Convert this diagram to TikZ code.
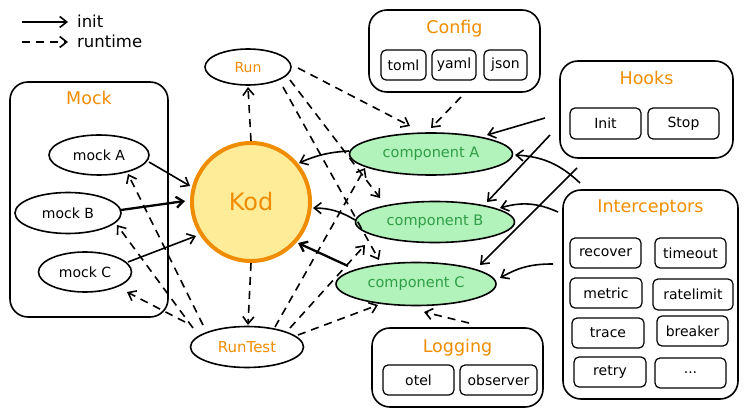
\documentclass[tikz,border=0pt]{standalone}
\usepackage{fontspec}
\setmainfont{DejaVu Sans}
\usetikzlibrary{shapes.geometric,arrows.meta,calc}
\definecolor{korange}{HTML}{F08C00}
\definecolor{kyellow}{HTML}{FFEC99}
\definecolor{kgreen}{HTML}{B2F2BB}
\definecolor{kgreentext}{HTML}{2F9E44}
\tikzset{
  bigbox/.style={draw, line width=1.6pt, rounded corners=18pt, inner sep=0pt},
  itembox/.style={draw, line width=1.2pt, rounded corners=5pt, inner sep=0pt, font=\fontsize{14}{16}\selectfont},
  boxtitle/.style={text=korange, inner sep=0pt, font=\fontsize{17.5}{19}\selectfont},
  oval/.style={ellipse, draw, line width=1.6pt, inner sep=0pt, font=\fontsize{14}{16}\selectfont},
  comp/.style={oval, fill=kgreen, text=kgreentext, font=\fontsize{14.5}{16}\selectfont},
  initarrow/.style={-{Straight Barb[length=7pt,width=11pt]}, line width=1.6pt},
  runarrow/.style={initarrow, dash pattern=on 8pt off 6pt},
  legendtext/.style={anchor=west, inner sep=0pt, font=\fontsize{16.5}{18}\selectfont}
}
\begin{document}
\begin{tikzpicture}[x=1pt,y=-1pt]
\useasboundingbox (0,0) rectangle (748,417);

% legend
\coordinate (l1s) at (22,22); \coordinate (l1e) at (68,22);
\coordinate (l2s) at (22,42); \coordinate (l2e) at (68,42);
\draw[initarrow] (l1s) -- (l1e);
\draw[runarrow] (l2s) -- (l2e);
\node[legendtext] (linit) at (77,21) {init};
\node[legendtext] (lrun) at (77,41) {runtime};

% group boxes
\node[bigbox, minimum width=158pt, minimum height=235pt] (mock) at (89,199.5) {};
\node[boxtitle] (mockT) at (89,98) {Mock};
\node[bigbox, minimum width=171pt, minimum height=82pt] (config) at (454.5,51) {};
\node[boxtitle] (configT) at (454.5,29) {Config};
\node[bigbox, minimum width=173pt, minimum height=97pt] (hooks) at (646.5,109.5) {};
\node[boxtitle] (hooksT) at (646.5,78) {Hooks};
\node[bigbox, minimum width=175pt, minimum height=209pt] (icp) at (650.5,294.5) {};
\node[boxtitle] (icpT) at (650.5,208) {Interceptors};
\node[bigbox, minimum width=171pt, minimum height=79pt] (logging) at (457.5,367.5) {};
\node[boxtitle] (loggingT) at (457.5,348) {Logging};

% items
\node[itembox, minimum width=45pt, minimum height=30pt] (toml) at (403.5,65) {toml};
\node[itembox, minimum width=44pt, minimum height=30pt] (yaml) at (454,65) {yaml};
\node[itembox, minimum width=43pt, minimum height=30pt] (json) at (505.5,65) {json};
\node[itembox, minimum width=71pt, minimum height=31pt] (init) at (605.5,123.5) {Init};
\node[itembox, minimum width=71pt, minimum height=31pt] (stop) at (683.5,123.5) {Stop};
\node[itembox, minimum width=71pt, minimum height=30pt] (recover) at (605.5,253) {recover};
\node[itembox, minimum width=71pt, minimum height=30pt] (timeout) at (690.5,253) {timeout};
\node[itembox, minimum width=72pt, minimum height=30pt] (metric) at (606,293) {metric};
\node[itembox, minimum width=80pt, minimum height=31pt] (ratelimit) at (693,294.5) {ratelimit};
\node[itembox, minimum width=72pt, minimum height=30pt] (trace) at (608,333) {trace};
\node[itembox, minimum width=71pt, minimum height=30pt] (breaker) at (692.5,331) {breaker};
\node[itembox, minimum width=72pt, minimum height=30pt] (retry) at (610,372) {retry};
\node[itembox, minimum width=71pt, minimum height=30pt] (dots) at (690.5,373) {...};
\node[itembox, minimum width=71pt, minimum height=30pt] (otel) at (418.5,380) {otel};
\node[itembox, minimum width=77pt, minimum height=30pt] (observer) at (498.5,380) {observer};

% ovals
\node[oval, minimum width=86pt, minimum height=36pt, text=korange] (run) at (248,67) {Run};
\node[oval, minimum width=113pt, minimum height=41pt, text=korange, font=\fontsize{15}{17}\selectfont] (runtest) at (247,347) {RunTest};
\node[oval, minimum width=100pt, minimum height=40pt] (mockA) at (99,155) {mock A};
\node[oval, minimum width=106pt, minimum height=41pt] (mockB) at (68,213) {mock B};
\node[oval, minimum width=93pt, minimum height=40pt] (mockC) at (85,272) {mock C};
\node[comp, minimum width=163pt, minimum height=42pt] (compA) at (431,154) {component A};
\node[comp, minimum width=159pt, minimum height=41pt] (compB) at (435,222) {component B};
\node[comp, minimum width=160pt, minimum height=43pt] (compC) at (416,284) {component C};
\node[circle, draw=korange, fill=kyellow, line width=4pt, minimum size=118pt, inner sep=0pt,
      text=korange, font=\fontsize{24}{26}\selectfont] (kod) at (251,202) {Kod};

% init connectors
\draw[initarrow] ($(mockA)+(50,7)$) -- ($(kod)+(-61,-16)$);
\draw[initarrow, line width=2.3pt] ($(mockB)+(53,-3)$) -- ($(kod)+(-66,-1)$);
\draw[initarrow] ($(mockC)+(43,-10)$) -- ($(kod)+(-55,34)$);
\draw[initarrow] ($(compA)+(-82,-3)$) to[bend right=10] ($(kod)+(48,-39)$);
\draw[initarrow] ($(compB)+(-80,-2)$) to[bend right=15] ($(kod)+(62,6)$);
\draw[initarrow, line width=2.3pt] ($(compC)+(-68,-18)$) -- ($(kod)+(47,41)$);
\draw[initarrow] ($(hooks)+(-101.5,8.5)$) -- ($(compA)+(56,-19)$);
\draw[initarrow] ($(hooks)+(-96.5,25.5)$) -- ($(compB)+(52,-20)$);
\draw[initarrow] ($(hooks)+(-69.5,58.5)$) -- ($(compC)+(64,-19)$);
\draw[initarrow] ($(icp)+(-70.5,-111.5)$) to[bend right=20] ($(compA)+(84,1)$);
\draw[initarrow] ($(icp)+(-92.5,-82.5)$) to[bend right=20] ($(compB)+(65,-14)$);
\draw[initarrow] ($(icp)+(-97.5,-30.5)$) to[bend right=15] ($(compC)+(84,-6)$);

% runtime connectors
\draw[runarrow] (kod.north) -- ($(run)+(0,20)$);
\draw[runarrow] ($(run)+(50,1)$) -- ($(compA)+(-21,-28)$);
\draw[runarrow] ($(config)+(6.5,46)$) -- ($(compA)+(0,-26)$);
\draw[runarrow] ($(run)+(42,13)$) -- ($(compB)+(-55,-24)$);
\draw[runarrow] ($(run)+(35,20)$) -- ($(compC)+(-37,-24)$);
\draw[runarrow] ($(runtest)+(28,-20)$) -- ($(compA)+(-66,14)$);
\draw[runarrow] ($(runtest)+(43,-19)$) -- ($(compB)+(-70,23)$);
\draw[runarrow] ($(runtest)+(51,-12)$) -- ($(compC)+(-38,21)$);
\draw[runarrow] (kod.south) -- ($(runtest)+(1,-22)$);
\draw[runarrow] ($(runtest)+(-44,-22)$) -- ($(mockA)+(29,19)$);
\draw[runarrow] ($(runtest)+(-54,-19)$) -- ($(mockB)+(49,12)$);
\draw[runarrow] ($(runtest)+(-62,-25)$) -- ($(mockC)+(42,20)$);
\draw[runarrow] ($(logging)+(11.5,-44.5)$) -- ($(compC)+(8,28)$);
\end{tikzpicture}
\end{document}
